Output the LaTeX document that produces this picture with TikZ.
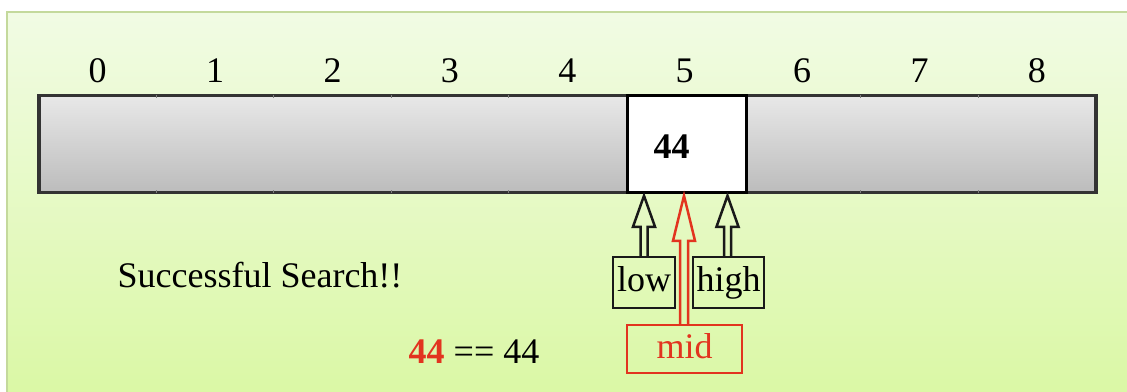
\documentclass[tikz,border=0pt]{standalone}
\usepackage{fontspec}
\setmainfont{Liberation Serif}
\usetikzlibrary{calc}
\definecolor{bgtop}{HTML}{F1FBE4}
\definecolor{bgbot}{HTML}{DAF8A4}
\definecolor{bgedge}{HTML}{C4D99C}
\definecolor{celltop}{HTML}{E8E8E8}
\definecolor{cellbot}{HTML}{BCBCBC}
\definecolor{midred}{HTML}{E2341F}
\begin{document}
\begin{tikzpicture}[x=1pt,y=1pt,font=\fontsize{36}{40}\selectfont,
  graycell/.style={draw=none,inner sep=0pt,minimum width=117.4pt,minimum height=97pt,top color=celltop,bottom color=cellbot},
  whitecell/.style={fill=white,draw=black,line width=3.5pt,inner sep=0pt,minimum width=119pt,minimum height=97pt},
  idxlabel/.style={anchor=base,inner sep=0pt},
  ptrbox/.style={draw=black!90,line width=2.5pt,inner sep=0pt,minimum height=51pt,text height=25pt,text depth=7pt},
  midbox/.style={draw=midred,text=midred,line width=2.5pt,inner sep=0pt,minimum height=48pt,minimum width=115pt,text height=25pt,text depth=7pt},
  ptrarrow/.style={draw=black!90,line width=2.5pt,line join=miter},
  midarrow/.style={draw=midred,line width=2.5pt,line join=miter}]
\useasboundingbox (0,0) rectangle (1127,-391);
\fill[white] (0,0) rectangle (1127,-391);
\draw[bgedge,line width=2pt,top color=bgtop,bottom color=bgbot] (7,-12) rectangle (1140,-400);
% cells
\foreach \k in {0,...,8}{
  \node[graycell] (c\k) at ({97.7+117.4*\k},-144) {};
}
\draw[black!80,line width=3.5pt] (c0.north west) rectangle (c8.south east);
\foreach \k in {1,2,3,4,7,8}{
  \draw[black!50,line width=1pt] (c\k.north west) -- ++(0,-3);
  \draw[black!50,line width=1pt] (c\k.south west) -- ++(0,3);
}
\node[whitecell] (w5) at ($(c5)+(2.5,0)$) {};
\node[font=\fontsize{36}{40}\selectfont\bfseries,anchor=base,inner sep=0pt] (val) at ($(w5.center)+(-15.5,-14)$) {44};
% index labels
\foreach \k in {0,...,8}{
  \node[idxlabel] (l\k) at ($(c\k.north)+(0,13)$) {\k};
}
% pointer boxes
\node[ptrbox,minimum width=62pt] (lo) at (644,-282.5) {low};
\node[ptrbox,minimum width=71pt] (hi) at (728.5,-282.5) {high};
\node[midbox] (mid) at (684.5,-349) {mid};
% arrows
\draw[ptrarrow] ($(lo.north)+(-3.5,0)$) -- ++(0,29) -- ++(-7.5,0) -- ($(lo.north)+(0,60)$) -- ($(lo.north)+(11,29)$) -- ++(-7.5,0) -- ($(lo.north)+(3.5,0)$);
\draw[ptrarrow] ($(hi.north)+(-4.5,0)$) -- ++(0,29) -- ++(-7.5,0) -- ($(hi.north)+(-1,60)$) -- ($(hi.north)+(10,29)$) -- ++(-7.5,0) -- ($(hi.north)+(2.5,0)$);
\draw[midarrow] ($(mid.north)+(-4.5,0)$) -- ++(0,83) -- ++(-7,0) -- ($(mid.north)+(-0.5,128)$) -- ($(mid.north)+(10.5,83)$) -- ++(-7,0) -- ($(mid.north)+(3.5,0)$);
% texts
\node[anchor=base,inner sep=0pt] (msg) at (260,-287) {Successful Search!!};
\node[anchor=base,inner sep=0pt] (cmp) at (474,-363) {\textcolor{midred}{\bfseries 44} == 44};
\end{tikzpicture}
\end{document}
